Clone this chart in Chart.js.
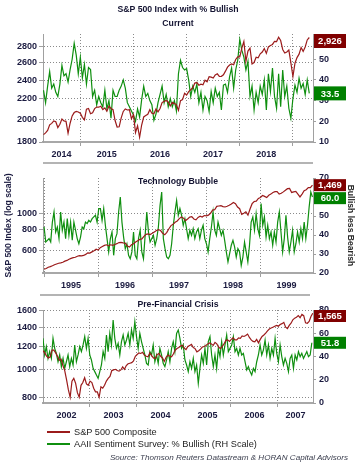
<!DOCTYPE html>
<html><head><meta charset="utf-8">
<script src="https://cdn.jsdelivr.net/npm/chart.js@4/dist/chart.umd.min.js"></script>
<style>
html,body{margin:0;padding:0;background:#fff;}
#wrap{position:relative;width:358px;height:466px;overflow:hidden;font-family:"Liberation Sans",Arial,sans-serif;background:#fff;}
canvas{position:absolute;left:0;}
.sep{position:absolute;height:2px;background:#b4b4b4;}
.leg{position:absolute;left:47px;width:300px;font-size:9.2px;color:#1e1e1e;line-height:12px;height:12px;}
.leg i{position:absolute;left:0;top:5px;width:23px;height:2px;}
.leg span{position:absolute;left:27px;top:0;white-space:nowrap;}
#src{position:absolute;right:10px;top:452px;font-size:8.1px;line-height:11px;font-style:italic;color:#3d4050;white-space:nowrap;}
</style></head><body>
<div id="wrap">
<canvas id="c1" width="358" height="165" style="top:0px"></canvas>
<div class="sep" style="left:43px;width:270px;top:162px"></div>
<canvas id="c2" width="358" height="130" style="top:165px"></canvas>
<div class="sep" style="left:40px;width:270px;top:294px"></div>
<canvas id="c3" width="358" height="125" style="top:297px"></canvas>
<div class="leg" style="top:426px"><i style="background:#9b1b1b"></i><span>S&amp;P 500 Composite</span></div>
<div class="leg" style="top:438px"><i style="background:#0f8f0f"></i><span>AAII Sentiment Survey: % Bullish (RH Scale)</span></div>
<div id="src">Source: Thomson Reuters Datastream &amp; HORAN Capital Advisors</div>
</div>
<script>
// ---------- Panel 1: Current (Apr 2014 - Apr 2019), biweekly ----------
const p1Range = [2014.30, 2019.38];
const p1Span = [2014.31, 2019.31];
const p1Spx = [1863,1878,1900,1949,1963,1985,1978,1925,1955,2003,1985,1982,1875,1964,2032,2064,2075,2070,
 2058,2019,1995,2097,2104,2053,2061,2102,2117,2116,2126,2092,2110,2077,2127,2104,2092,1989,1930,1932,2014,2075,2099,2089,2092,2006,
 2044,1880,1940,1840,1948,2022,2035,2048,2092,2057,2052,2099,2071,2103,2162,2174,2184,2169,2128,2165,2153,2141,2085,2182,2192,2258,2239,
 2275,2295,2316,2367,2373,2344,2356,2349,2399,2382,2439,2433,2423,2459,2472,2441,2443,2461,2502,2549,2575,2587,2578,2642,2675,2674,
 2786,2873,2620,2747,2786,2588,2604,2670,2663,2712,2735,2780,2718,2801,2819,2833,2875,2872,2930,2885,2768,2723,2736,2760,2600,2440,
 2596,2665,2708,2793,2743,2800,2893,2926];
const p1Bull = [35,29,37,44,36,38,34,32,38,47,
 42,43,39,45,50,57.7,52,43,51,41,
 47.5,38,46,45,32,35,28,32,29,27,
 35,26,30,21.5,35,32,32,35,37,40,
 36,29,27,25,23,20,26,22,30.5,37,
 32,33.5,30,28,20.5,23.5,29,33,37,29,
 33,27,31,27,30,25,43,49.5,46,44.8,
 45.5,40,32,37,34,38,29,34,25.5,32,
 30,24.7,34.4,29,36,32,34,25.5,37.5,38,
 34,41.5,45.7,36,44.8,49.5,59.6,54.4,51,44.8,
 49,32,37,25.5,34,29,37,33,40,25.5,
 43,34.4,45.7,32,26.3,43,27,44.8,32,37,
 26.3,21.5,31,37.5,34,40.8,36,38.3,33,40,
 33.5];
const p1LeftTicks = [1800,2000,2200,2400,2600,2800];
const p1RightTicks = [10,20,30,40,50,60];
const p1Years = ['2014','2015','2016','2017','2018'];

// ---------- Panel 2: Technology Bubble (1995 - 1999) ----------
const p2Range = [1994.98, 1999.98];
const p2Span = [1995.0, 1999.97];
const p2Spx = [465,470,478,482,488,495,500,505,508,512,520,525,533,540,545,548,556,560,558,562,570,582,580,590,600,612,
 605,625,635,645,650,640,650,645,652,660,670,672,668,665,640,630,650,660,675,688,700,705,730,750,755,748,
 760,775,790,800,790,760,745,770,810,845,860,885,900,930,950,935,905,925,950,955,925,915,945,960,950,970,
 965,975,1000,1045,1050,1100,1105,1110,1095,1090,1100,1115,1135,1160,1140,1090,1065,985,1000,1020,975,1060,1140,1175,1180,1225,
 1240,1275,1260,1240,1280,1300,1330,1345,1345,1300,1315,1340,1370,1400,1405,1330,1340,1350,1300,1250,1300,1360,1380,1420,1420,1469];
const p2Bull = [44.2,36.3,37.2,38.1,36.3,46.8,52.1,41.6,44.2,38.1,
 52.1,42.5,46.8,38.1,48.6,39.8,46.8,37.2,46.8,42.5,
 38.1,35.4,38.9,44.2,43.3,46.8,46.0,47.7,46.8,48.6,
 49.5,50.4,46.8,53.9,53.9,47.7,53.9,45.1,38.1,31.1,
 38.1,41.6,29.3,38.1,40.7,52.1,60.0,46.8,38.9,32.8,
 35.4,29.3,27.5,31.1,41.6,29.3,27.5,38.1,42.5,31.1,
 27.5,39.8,52.1,41.6,36.3,38.1,39.8,34.6,38.1,44.2,
 55.6,62.6,38.1,32.8,28.4,27.5,29.3,35.4,45.1,52.1,
 58.2,50.4,53.9,50.4,45.1,48.6,43.3,38.1,42.5,39.8,
 43.3,38.1,41.6,43.3,38.1,
 42.5,45.1,38.1,35.4,31.1,38.1,44.2,52.1,42.5,39.8,
 46.8,43.3,39.8,42.5,37.2,31.1,25.8,30.2,34.6,37.2,
 33.7,28.4,32.8,31.1,24.0,28.4,36.3,31.1,25.8,34.6,
 46.8,49.5,42.5,51.2,43.3,39.8,56.5,45.1,49.5,38.9,
 45.1,38.1,41.6,34.6,41.6,36.3,46.8,52.1,41.6,31.1,
 38.1,50.4,38.9,31.1,36.3,42.5,31.1,35.4,41.6,36.3,
 43.3,38.1,46.8,38.1,45.1,54.7,62.6,60.0];
const p2LeftTicks = [600,800,1000];
const p2RightTicks = [20,30,40,50,60,70];
const p2Years = ['1995','1996','1997','1998','1999'];

// ---------- Panel 3: Pre-Financial Crisis (2002 - Oct 2007) ----------
const p3Range = [2002.0, 2007.745];
const p3Span = [2002.0, 2007.74];
const p3Spx = [1160,1140,1110,1095,1105,1165,1165,1140,1110,1075,1085,1030,990,920,850,800,910,930,895,830,800,880,900,935,890,880,
 910,900,860,835,835,800,870,860,880,910,930,945,990,995,1000,990,985,995,1020,1000,1030,1045,1050,1055,1070,1110,
 1125,1140,1135,1145,1120,1110,1105,1140,1115,1095,1090,1125,1135,1110,1095,1065,1100,1120,1110,1105,1130,1165,1180,1190,1205,1212,
 1185,1170,1200,1210,1220,1190,1180,1150,1160,1175,1195,1200,1210,1225,1235,1225,1210,1240,1225,1195,1180,1200,1225,1260,1265,1250,
 1270,1285,1265,1265,1285,1280,1305,1300,1310,1325,1290,1265,1250,1245,1270,1235,1270,1300,1315,1335,1360,1380,1390,1400,1410,1420,
 1410,1430,1440,1455,1400,1385,1420,1445,1485,1505,1515,1535,1510,1550,1535,1450,1445,1465,1525,1565];
const p3Bull = [55.6,41.3,48.5,38.4,44.2,38.4,55.6,47.0,42.7,35.5,
 41.3,31.3,38.4,29.8,35.5,41.3,31.3,38.4,32.7,49.9,
 35.5,41.3,48.5,44.2,49.9,57.1,47.0,55.6,41.3,37.0,
 29.8,27.0,24.1,21.2,27.0,32.7,44.2,38.4,58.5,44.2,
 59.9,49.9,71.4,55.6,47.0,51.3,41.3,52.8,58.5,49.9,
 54.2,59.9,49.9,62.8,55.6,70.0,57.1,47.0,59.9,52.8,
 47.0,41.3,34.1,32.7,44.2,41.3,49.9,35.5,41.3,34.1,
 47.0,41.3,34.1,31.3,37.0,44.2,35.5,47.0,52.8,44.2,
 59.9,62.8,
 55.6,47.0,49.9,37.0,32.7,27.0,35.5,29.8,38.4,27.0,
 32.7,16.9,29.8,41.3,34.1,47.0,32.7,52.8,57.1,41.3,
 31.3,41.3,29.8,47.0,39.9,52.8,41.3,49.9,58.5,44.2,
 47.0,49.9,57.1,44.2,47.0,41.3,47.0,41.3,42.7,35.5,
 28.4,31.3,27.0,24.1,29.8,27.0,35.5,41.3,49.9,41.3,
 45.6,54.2,41.3,49.9,38.4,47.0,41.3,55.6,42.7,35.5,
 49.9,39.9,32.7,38.4,34.1,27.0,38.4,41.3,29.8,41.3,
 37.0,44.2,39.9,42.7,38.4,41.3,44.2,39.9,41.3,51.8];
const p3LeftTicks = [800,1000,1200,1400,1600];
const p3RightTicks = [0,20,40,60,80];
const p3Years = ['2002','2003','2004','2005','2006','2007'];

// ---------- styling ----------
const RED = '#9b1b1b', GREEN = '#0f8f0f', NAVY = '#1b1b40';
const FONT = 'Liberation Sans';
const tickFont = {family: FONT, size: 9, weight: 'bold'};

// sample dates spread evenly over the series' span
function xy(vals, span) {
  const n = vals.length;
  return vals.map((v, i) => ({x: span[0] + (span[1] - span[0]) * i / (n - 1), y: v}));
}

const valueBoxes = {
  id: 'valueBoxes',
  afterDraw(chart, args, o) {
    const {ctx, chartArea: a} = chart;
    const ds = chart.data.datasets;
    const lastR = ds[0].data[ds[0].data.length - 1].y;
    const lastG = ds[1].data[ds[1].data.length - 1].y;
    const items = [
      {v: lastR, s: chart.scales.y, bg: '#800000', t: lastR.toLocaleString('en-US')},
      {v: lastG, s: chart.scales.y2, bg: '#008000', t: lastG.toFixed(1)}
    ];
    const h = o.h;
    let prevBottom = -Infinity;
    ctx.save();
    items.forEach(it => {
      let top = it.s.getPixelForValue(it.v) - h / 2;
      if (top < a.top) top = a.top;
      if (top < prevBottom + 1) top = prevBottom + 1;
      ctx.fillStyle = it.bg;
      ctx.fillRect(a.right + 1, top, 32, h);
      ctx.fillStyle = '#fff';
      ctx.font = 'bold 9.5px "' + FONT + '"';
      ctx.textAlign = 'center';
      ctx.textBaseline = 'middle';
      ctx.fillText(it.t, a.right + 17, top + h / 2 + 0.5);
      prevBottom = top + h;
    });
    ctx.restore();
  }
};

const panelTitles = {
  id: 'panelTitles',
  afterDraw(chart, args, o) {
    const {ctx, chartArea: a} = chart;
    ctx.save();
    ctx.fillStyle = '#141432';
    ctx.font = 'bold 8.7px "' + FONT + '"';
    ctx.textAlign = 'center';
    ctx.textBaseline = 'middle';
    (o.items || []).forEach(it => ctx.fillText(it.text, (a.left + a.right) / 2, it.y));
    ctx.restore();
  }
};

function makePanel(id, c) {
  const yearTicks = [];
  for (let y = Math.ceil(c.range[0]); y < c.range[1]; y++) if (y > c.range[0]) yearTicks.push(y);
  const labelPos = c.years.map(s => {
    const y = +s;
    return (Math.max(y, c.range[0]) + Math.min(y + 1, c.range[1])) / 2;
  });
  return new Chart(document.getElementById(id), {
    type: 'line',
    data: {datasets: [
      {label: 'S&P 500 Composite', data: xy(c.spx, c.span), xAxisID: 'x', yAxisID: 'y',
       borderColor: RED, borderWidth: 1.2, pointRadius: 0, tension: 0, fill: false},
      {label: 'AAII Sentiment Survey: % Bullish (RH Scale)', data: xy(c.bull, c.span2 || c.span), xAxisID: 'x', yAxisID: 'y2',
       borderColor: GREEN, borderWidth: 1.2, pointRadius: 0, tension: 0, fill: false}
    ]},
    options: {
      responsive: false, animation: false,
      layout: {padding: {top: c.padTop, left: 0, right: 0, bottom: 0}},
      plugins: {legend: {display: false}, tooltip: {enabled: false},
        valueBoxes: {h: c.boxH}, panelTitles: {items: c.titles}},
      scales: {
        x: {type: 'linear', position: 'bottom', weight: 0, min: c.range[0], max: c.range[1], bounds: 'data',
          afterBuildTicks: s => { s.ticks = yearTicks.map(v => ({value: v})); },
          afterFit: s => { s.height = 5; },
          ticks: {display: false},
          grid: {color: '#8a8a8a', lineWidth: 1, drawTicks: true, tickLength: 4, tickColor: '#a0a0a0'},
          border: {display: true, color: '#a8a8a8', width: 2, dash: [1, 2]}},
        x2: {type: 'linear', position: 'bottom', weight: 1, min: c.range[0], max: c.range[1], bounds: 'data',
          afterBuildTicks: s => { s.ticks = labelPos.map(v => ({value: v})); },
          afterFit: s => { s.height = c.x2h; },
          ticks: {autoSkip: false, maxRotation: 0, minRotation: 0, padding: 2, color: NAVY, font: tickFont,
            callback: (v, i) => c.years[i]},
          grid: {display: false, drawTicks: false}, border: {display: false}},
        y: {type: 'logarithmic', position: 'left', min: c.left[0], max: c.left[1], bounds: 'data',
          afterBuildTicks: s => { s.ticks = c.leftTicks.map(v => ({value: v})); },
          afterFit: s => { s.width = 43; },
          ticks: {color: NAVY, font: tickFont, padding: 2, callback: v => String(v)},
          grid: {color: '#8a8a8a', lineWidth: 1, tickLength: 4, tickColor: '#a0a0a0'},
          border: {display: true, color: '#a0a0a0', width: 1, dash: [1, 2]},
          title: c.leftTitle ? {display: true, text: c.leftTitle, color: NAVY,
            font: {family: FONT, size: 8.6, weight: 'bold'}, padding: {top: 3, bottom: 0}} : {display: false}},
        y2: {type: 'linear', position: 'right', min: c.right[0], max: c.right[1], bounds: 'data',
          afterBuildTicks: s => { s.ticks = c.rightTicks.map(v => ({value: v})); },
          afterFit: s => { s.width = 45; },
          ticks: {color: NAVY, font: tickFont, padding: 3, callback: v => String(v)},
          grid: {drawOnChartArea: false, tickLength: 3, tickColor: '#a0a0a0'},
          border: {display: true, color: '#a0a0a0', width: 1},
          title: c.rightTitle ? {display: true, text: c.rightTitle, color: '#2a2a2a',
            font: {family: FONT, size: 8.6, weight: 'bold'}, padding: {top: 2, bottom: 0}} : {display: false}}
      }
    },
    plugins: [valueBoxes, panelTitles]
  });
}

makePanel('c1', {range: p1Range, span: p1Span, spx: p1Spx, bull: p1Bull,
  left: [1800, 2974], right: [10, 62.2], leftTicks: p1LeftTicks, rightTicks: p1RightTicks,
  years: p1Years, padTop: 34, x2h: 18, boxH: 14,
  titles: [{text: 'S&P 500 Index with % Bullish', y: 10}, {text: 'Current', y: 24}]});

makePanel('c2', {range: p2Range, span: p2Span, spx: p2Spx, bull: p2Bull,
  left: [442, 1620], right: [20, 70], leftTicks: p2LeftTicks, rightTicks: p2RightTicks,
  years: p2Years, padTop: 13, x2h: 17, boxH: 12,
  leftTitle: 'S&P 500 Index (log scale)', rightTitle: 'Bullish less Bearish',
  titles: [{text: 'Technology Bubble', y: 17}]});

makePanel('c3', {range: p3Range, span: p3Span, span2: [2002.0, 2007.72], spx: p3Spx, bull: p3Bull,
  left: [764, 1606], right: [0, 80], leftTicks: p3LeftTicks, rightTicks: p3RightTicks,
  years: p3Years, padTop: 13, x2h: 14, boxH: 12,
  titles: [{text: 'Pre-Financial Crisis', y: 8}]});
</script>
</body></html>
